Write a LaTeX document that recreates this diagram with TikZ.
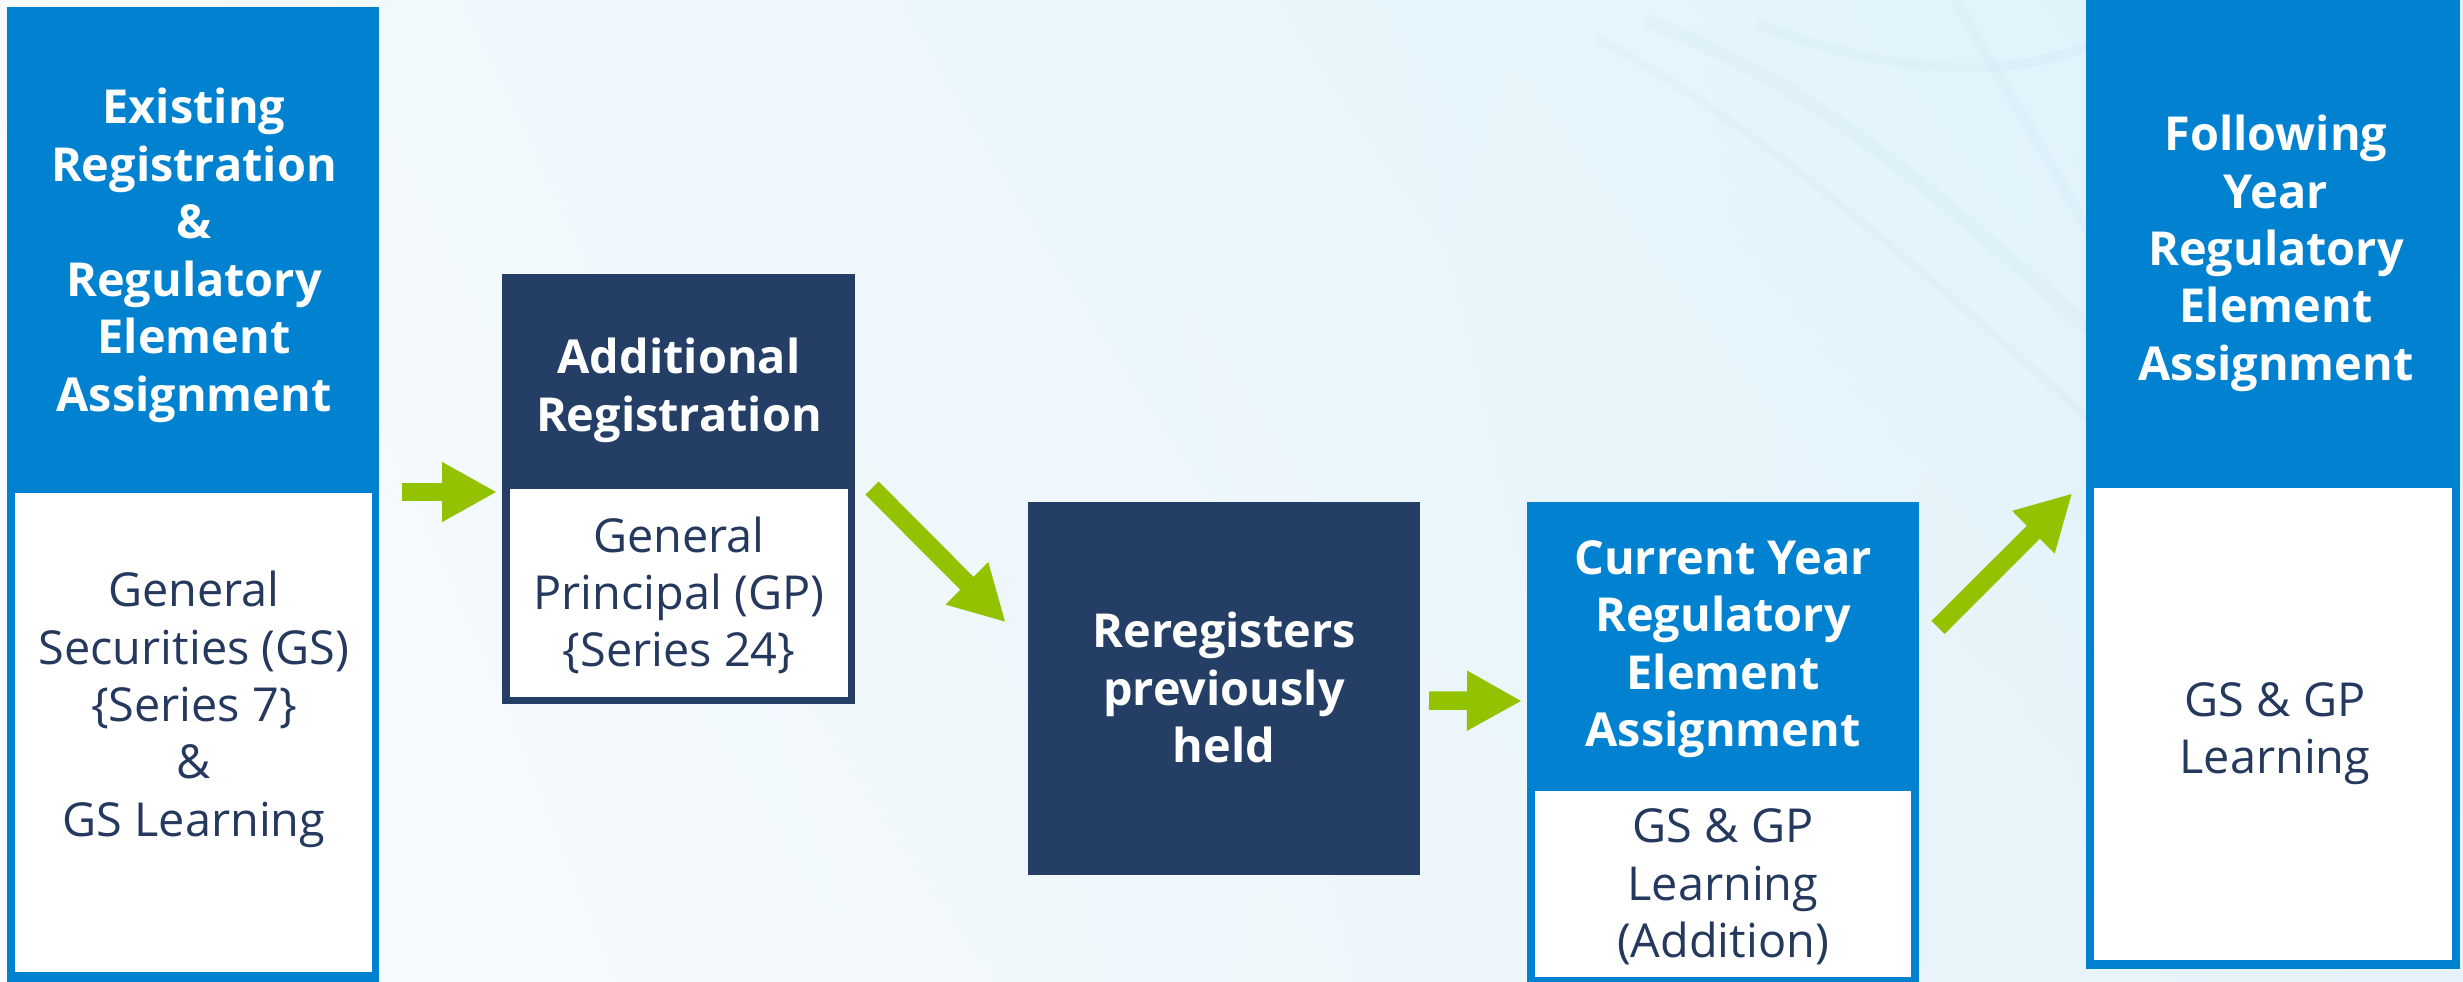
\documentclass[tikz,border=0pt]{standalone}
\usepackage{fontspec}
\setmainfont{Open Sans}
\usetikzlibrary{arrows.meta,shadings}
\definecolor{hblue}{RGB}{0,130,208}
\definecolor{navy}{RGB}{36,62,101}
\definecolor{txtnavy}{RGB}{37,57,94}
\definecolor{agreen}{RGB}{146,194,0}
\definecolor{bgul}{RGB}{246,250,254}
\definecolor{bgll}{RGB}{250,252,254}
\definecolor{bgur}{RGB}{220,242,250}
\definecolor{bglr}{RGB}{229,242,249}
\definecolor{streak}{RGB}{200,224,238}
\begin{document}
\begin{tikzpicture}[x=1bp,y=-1bp,
  boxbg/.style={rectangle, inner sep=0pt, outer sep=0pt, draw=none},
  whitebody/.style={boxbg, fill=white},
  titletext/.style={inner sep=0pt, align=center, text=white, font=\fontsize{47}{57.7}\selectfont\bfseries},
  bodytext/.style={inner sep=0pt, align=center, text=txtnavy, font=\fontsize{47}{57.7}\selectfont},
  garrow/.style={draw=agreen, line width=18.5bp, -{Triangle[length=55bp,width=56bp]}},
  streakline/.style={draw=streak, opacity=0.16, line cap=round},
]
\clip (0,0) rectangle (2463,981);
\shade[upper left=bgul, lower left=bgll, upper right=bgur, lower right=bglr] (0,0) rectangle (2463,981);
% faint background streaks
\draw[streakline, line width=14bp] (1650,22) .. controls (1800,80) and (1900,160) .. (2090,330);
\draw[streakline, line width=10bp] (1760,25) .. controls (1850,60) and (1980,90) .. (2090,45);
\draw[streakline, line width=10bp] (1955,0) .. controls (2000,80) and (2050,160) .. (2090,235);
\draw[streakline, line width=8bp] (1600,40) .. controls (1750,120) and (1900,250) .. (2090,420);

% Box 1
\node[boxbg, fill=hblue, minimum width=372bp, minimum height=976bp] (b1) at (193,495) {};
\node[whitebody, minimum width=357bp, minimum height=479bp] (b1body) at (193.5,732.5) {};
\node[titletext] (b1title) at (194,256) {\strut Existing\\Registration\\\&\\Regulatory\\Element\\Assignment\strut};
\node[bodytext] (b1text) at (194,710) {\strut General\\Securities (GS)\\\{Series 7\}\\\&\\GS Learning\strut};

% Box 2
\node[boxbg, fill=navy, minimum width=353bp, minimum height=430bp] (b2) at (678.5,489) {};
\node[whitebody, minimum width=338bp, minimum height=208bp] (b2body) at (679,593) {};
\node[titletext] (b2title) at (679,391) {\strut Additional\\Registration\strut};
\node[bodytext] (b2text) at (679,598) {\strut General\\Principal (GP)\\\{Series 24\}\strut};

% Box 3
\node[boxbg, fill=navy, minimum width=392bp, minimum height=373bp] (b3) at (1224,688.5) {};
\node[titletext] (b3title) at (1224,693.5) {\strut Reregisters\\previously\\held\strut};

% Box 4
\node[boxbg, fill=hblue, minimum width=392bp, minimum height=483bp] (b4) at (1723,743.5) {};
\node[whitebody, minimum width=376bp, minimum height=186bp] (b4body) at (1723,884) {};
\node[titletext] (b4title) at (1723,649) {\strut Current Year\\Regulatory\\Element\\Assignment\strut};
\node[bodytext] (b4text) at (1723,888.5) {\strut GS \& GP\\Learning\\(Addition)\strut};

% Box 5
\node[boxbg, fill=hblue, minimum width=374bp, minimum height=971bp] (b5) at (2273,483.5) {};
\node[whitebody, minimum width=358bp, minimum height=472bp] (b5body) at (2273,724) {};
\node[titletext] (b5title) at (2276,254) {\strut Following\\Year\\Regulatory\\Element\\Assignment\strut};
\node[bodytext] (b5text) at (2275,733.5) {\strut GS \& GP\\Learning\strut};

% Arrows
\draw[garrow] ([xshift=23bp,yshift=-3bp]b2.west -| b1.east) -- ([xshift=-5bp,yshift=-3bp]b2.west);
\draw[garrow] ([xshift=17bp,yshift=1bp]b2.east) -- ([xshift=-22.3bp,yshift=66.2bp]b3.west);
\draw[garrow] ([xshift=9bp,yshift=-12bp]b3.east) -- ([xshift=-5bp,yshift=-12.5bp]b3.east -| b4.west);
\draw[garrow] ([xshift=19bp,yshift=-125.5bp]b4.north east) -- ([xshift=-13.7bp,yshift=-9.8bp]b5.west);
\end{tikzpicture}
\end{document}
